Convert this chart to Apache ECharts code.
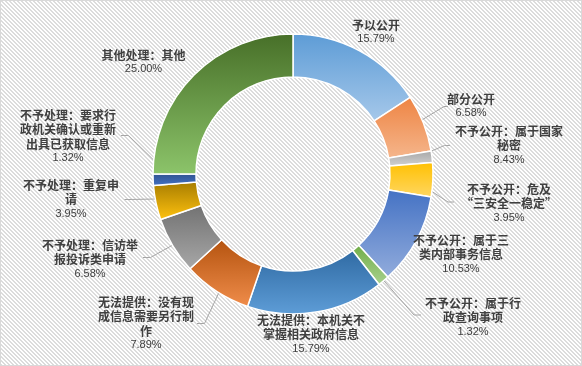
<!DOCTYPE html>
<html><head><meta charset="utf-8">
<script src="https://cdn.jsdelivr.net/npm/echarts@6/dist/echarts.min.js"></script>
<style>
html,body{margin:0;padding:0;background:#fff}
#bg{position:absolute;left:0;top:0;width:582px;height:366px;box-sizing:border-box;border:1px solid #d9d9d9}
#c{position:absolute;left:0;top:0;width:582px;height:366px}
</style>
</head><body><div id="bg"></div><div id="c"></div>
<script>
// ---- data ----
const categories = [
  '予以公开',
  '部分公开',
  '不予公开：属于国家\n秘密',
  '不予公开：危及\n“三安全一稳定”',
  '不予公开：属于三\n类内部事务信息',
  '不予公开：属于行\n政查询事项',
  '无法提供：本机关不\n掌握相关政府信息',
  '无法提供：没有现\n成信息需要另行制\n作',
  '不予处理：信访举\n报投诉类申请',
  '不予处理：重复申\n请',
  '不予处理：要求行\n政机关确认或重新\n出具已获取信息',
  '其他处理：其他'
];
const counts = [12, 5, 1, 3, 8, 1, 12, 6, 5, 3, 1, 19];
const percentLabels = ['15.79%', '6.58%', '8.43%', '3.95%', '10.53%', '1.32%', '15.79%', '7.89%', '6.58%', '3.95%', '1.32%', '25.00%'];

// ---- styles / layout ----
const palette = [
  ['#5d9cd6', '#a6c8ea'],
  ['#ee8443', '#f5b68c'],
  ['#a6a6a6', '#d2d2d2'],
  ['#ffc000', '#ffd763'],
  ['#4472c4', '#92acdc'],
  ['#70ad47', '#a9d18e'],
  ['#2f6aa3', '#5e9dd7'],
  ['#b4530f', '#f08d4b'],
  ['#727272', '#a8a8a8'],
  ['#a67c00', '#ffc20f'],
  ['#2f528f', '#4472c4'],
  ['#476f28', '#8cc46a']
];
const labelPos = [
  [376, 18], [471, 92], [509, 124.5], [509, 182.5], [461, 233], [473, 296.5],
  [311, 313], [146, 295.5], [90, 238], [71, 178], [68, 108.5], [143.5, 48]
];
const leaderEnds = [
  null,
  [[444, 106.5], [448, 106.5]],
  [[444.5, 145.5], [450, 145.5]],
  [[448, 202], [454, 202]],
  null,
  [[414, 315], [421, 315]],
  null,
  [[204.5, 323.5], [197, 323.5]],
  [[150.5, 257.5], [143, 257.5]],
  [[129, 199.5], [124.5, 199.5]],
  [[128.5, 135.5], [121, 135.5]],
  null
];
const CX = 293, CY = 174, R_IN = 97, R_OUT = 140, R_LINE = 120;

// hatch background
(function () {
  const cv = document.createElement('canvas');
  cv.width = 4; cv.height = 4;
  const ctx = cv.getContext('2d');
  ctx.fillStyle = '#ffffff'; ctx.fillRect(0, 0, 4, 4);
  ctx.fillStyle = '#dcdcdc';
  for (let y = 0; y < 4; y++) for (let x = 0; x < 4; x++) {
    const k = ((x - y) % 4 + 4) % 4;
    if (k === 0 || k === 1) ctx.fillRect(x, y, 1, 1);
  }
  document.getElementById('bg').style.backgroundImage = 'url(' + cv.toDataURL() + ')';
})();

const total = counts.reduce((a, b) => a + b, 0);
const cum = [];
counts.reduce((acc, v, i) => { cum[i] = acc; return acc + v; }, 0);

const chart = echarts.init(document.getElementById('c'), null, { renderer: 'canvas' });
chart.setOption({
  backgroundColor: 'transparent',
  animation: false,
  series: [{
    type: 'pie',
    center: [CX, CY],
    radius: [R_IN, R_OUT],
    startAngle: 90,
    clockwise: true,
    avoidLabelOverlap: false,
    itemStyle: { borderColor: '#ffffff', borderWidth: 1.5 },
    emphasis: { disabled: true },
    label: {
      show: true,
      position: 'outside',
      formatter: p => '{n|' + p.name + '}\n{p|' + percentLabels[p.dataIndex] + '}',
      rich: {
        n: { fontFamily: '"Noto Sans CJK SC", sans-serif', fontWeight: 'bold', fontSize: 12, color: '#404040', lineHeight: 14.2, align: 'center' },
        p: { fontFamily: '"Liberation Sans", Arial, sans-serif', fontSize: 11, color: '#404040', lineHeight: 14.2, align: 'center' }
      }
    },
    labelLine: { show: true, smooth: false, lineStyle: { color: '#a6a6a6', width: 1 } },
    labelLayout: function (p) {
      const i = p.dataIndex;
      const res = { x: labelPos[i][0], y: labelPos[i][1], align: 'center', verticalAlign: 'top' };
      if (leaderEnds[i]) {
        const th = (cum[i] + counts[i] / 2) / total * Math.PI * 2;
        const sx = CX + R_LINE * Math.sin(th), sy = CY - R_LINE * Math.cos(th);
        res.labelLinePoints = [[sx, sy], leaderEnds[i][0], leaderEnds[i][1]];
      }
      return res;
    },
    data: categories.map((n, i) => ({
      name: n,
      value: counts[i],
      itemStyle: {
        color: new echarts.graphic.LinearGradient(0, 0, 0, 1, [
          { offset: 0, color: palette[i][0] },
          { offset: 1, color: palette[i][1] }
        ])
      },
      labelLine: { show: leaderEnds[i] != null }
    }))
  }]
});
</script>
</body></html>
